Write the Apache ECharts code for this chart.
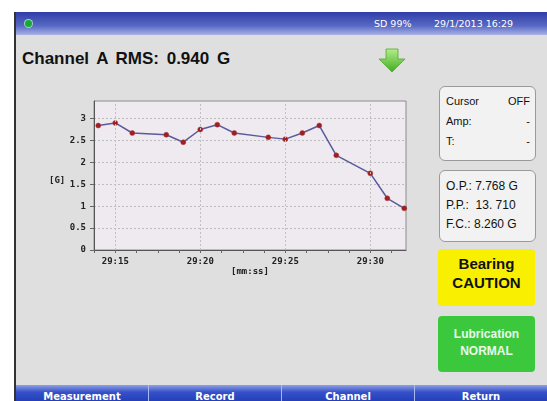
<!DOCTYPE HTML>
<html>
<head>
    <meta charset="utf-8">
    <title>Channel A RMS</title>
    <script src="https://cdn.jsdelivr.net/npm/echarts@6/dist/echarts.min.js"></script>
    <style>
        html, body { margin: 0; padding: 0; background: #ffffff; }
        #screen { position: absolute; left: 14px; top: 12px; width: 533px; height: 389px;
                  background: #dfdfdf; border-left: 2px solid #333; box-sizing: border-box; overflow: hidden; }
        #header { position: absolute; left: 0; top: 0; width: 100%; height: 23px;
                  background: linear-gradient(#2f3ea8, #5868c4 60%, #a9b3e6); }
        #dot { position: absolute; left: 9px; top: 8px; width: 7px; height: 7px; border-radius: 50%;
               background: #16a83a; box-shadow: 0 0 0 1px #9fd8a8; }
        .hdr { position: absolute; top: 6px; color: #fff; font: 9.5px "DejaVu Sans"; }
        #title { position: absolute; left: 6px; top: 37px; font: bold 17px "Liberation Sans"; color: #111; word-spacing: 3px; }
        #arrow { position: absolute; left: 362px; top: 36px; }
        .box { position: absolute; left: 423px; width: 97px; box-sizing: border-box; border: 1px solid #9a9a9a;
               border-radius: 6px; background: #f2f2f2; font: 11px "Liberation Sans"; color: #111; }
        .row { position: absolute; left: 6px; right: 5px; display: flex; justify-content: space-between; }
        #bearing { position: absolute; left: 422px; top: 237px; width: 97px; height: 57px; background: #f8f000;
                   border-radius: 4px; text-align: center; font: bold 15px "Liberation Sans"; line-height: 19px;
                   padding-top: 5px; box-sizing: border-box; color: #111; }
        #lube { position: absolute; left: 422px; top: 304px; width: 97px; height: 56px; background: #3cc83c;
                border-radius: 4px; text-align: center; font: bold 12px "Liberation Sans"; line-height: 17px;
                padding-top: 10px; box-sizing: border-box; color: #eaf8ea; }
        #footer { position: absolute; left: 0; top: 373px; width: 100%; height: 16px; display: flex;
                  background: linear-gradient(#8ea0e6, #3550c8 45%, #2440b8); }
        .btn { flex: 1; text-align: center; color: #fff; font: bold 10px "DejaVu Sans"; padding-top: 6px;
               border-left: 1px solid #a8b8f0; }
        .btn:first-child { border-left: none; }
        #chart { position: absolute; left: 0; top: 0; width: 547px; height: 401px; }
    </style>
</head>
<body>
<div id="screen">
    <div id="header">
        <div id="dot"></div>
        <div class="hdr" style="left:358px;">SD 99%</div>
        <div class="hdr" style="left:418px;">29/1/2013 16:29</div>
    </div>
    <div id="title">Channel A RMS: 0.940 G</div>
    <svg id="arrow" width="28" height="25" viewBox="0 0 28 25">
        <defs>
            <linearGradient id="ag" x1="0" y1="0" x2="0" y2="1">
                <stop offset="0" stop-color="#b6ec8a"/>
                <stop offset="1" stop-color="#3fae1e"/>
            </linearGradient>
        </defs>
        <polygon points="8,1 20,1 20,11 27,11 14,24 1,11 8,11" fill="url(#ag)" stroke="#52a830" stroke-width="0.8"/>
    </svg>
    <div class="box" style="top:74px;height:75px;">
        <div class="row" style="top:8px;"><span>Cursor</span><span>OFF</span></div>
        <div class="row" style="top:28px;"><span>Amp:</span><span>-</span></div>
        <div class="row" style="top:48px;"><span>T:</span><span>-</span></div>
    </div>
    <div class="box" style="top:158px;height:72px;font-size:12px;">
        <div class="row" style="top:8px;"><span>O.P.: 7.768 G</span></div>
        <div class="row" style="top:27px;"><span>P.P.:&nbsp; 13. 710</span></div>
        <div class="row" style="top:46px;"><span>F.C.: 8.260 G</span></div>
    </div>
    <div id="bearing">Bearing<br>CAUTION</div>
    <div id="lube">Lubrication<br>NORMAL</div>
    <div id="footer">
        <div class="btn">Measurement</div>
        <div class="btn">Record</div>
        <div class="btn">Channel</div>
        <div class="btn">Return</div>
    </div>
</div>
<div id="chart"></div>
<script type="text/javascript">
    // seconds after 29:00 (mm:ss)
    var seconds = [14, 15, 16, 18, 19, 20, 21, 22, 24, 25, 26, 27, 28, 30, 31, 32];
    // RMS values [G]
    var rmsValues = [2.84, 2.90, 2.67, 2.63, 2.46, 2.75, 2.86, 2.67, 2.57, 2.53, 2.67, 2.84, 2.16, 1.75, 1.18, 0.95];
    // labelled ticks on the time axis
    var majorSeconds = [15, 20, 25, 30];
    var yLabels = [0, 0.5, 1, 1.5, 2, 2.5, 3];

    var points = [];
    for (var i = 0; i < seconds.length; i++) {
        points.push([seconds[i], rmsValues[i]]);
    }
    var vLines = [];
    for (var i = 0; i < majorSeconds.length; i++) {
        vLines.push({xAxis: majorSeconds[i]});
    }

    var tickFont = {fontFamily: 'DejaVu Sans Mono', fontWeight: 'bold', fontSize: 9, color: '#222'};

    var myChart = echarts.init(document.getElementById('chart'));
    var option = {
        animation: false,
        grid: {
            left: 94, top: 101, width: 312, height: 149,
            show: true,
            backgroundColor: '#eeeaf0',
            borderColor: '#8c8c8c',
            borderWidth: 1
        },
        xAxis: {
            type: 'value',
            min: 13.75,
            max: 32.1,
            interval: 1.25,
            axisLine: {onZero: false, lineStyle: {color: '#555', width: 1}},
            axisTick: {length: 3, lineStyle: {color: '#666'}},
            splitLine: {show: false},
            axisLabel: Object.assign({
                margin: 7,
                showMaxLabel: false,
                formatter: function (v) {
                    return majorSeconds.indexOf(v) >= 0 ? '29:' + v : '';
                }
            }, tickFont)
        },
        yAxis: {
            type: 'value',
            min: 0,
            max: 3.4,
            interval: 0.5,
            axisLine: {show: true, lineStyle: {color: '#555', width: 1}},
            axisTick: {show: true, length: 4, lineStyle: {color: '#666'}},
            splitLine: {lineStyle: {color: '#bdbdbd', type: [2, 2]}},
            axisLabel: Object.assign({
                margin: 8,
                showMaxLabel: false,
                formatter: function (v) {
                    return yLabels.indexOf(v) >= 0 ? String(v) : '';
                }
            }, tickFont)
        },
        graphic: [
            {type: 'text', left: 49, top: 176, style: {text: '[G]', font: 'bold 9px "DejaVu Sans Mono"', fill: '#222'}},
            {type: 'text', left: 231, top: 267, style: {text: '[mm:ss]', font: 'bold 9px "DejaVu Sans Mono"', fill: '#222'}}
        ],
        series: [{
            type: 'line',
            data: points,
            symbol: 'circle',
            symbolSize: 5,
            itemStyle: {color: '#9c1f24', borderColor: '#b03a3a', borderWidth: 0.5},
            lineStyle: {color: '#5a5a9c', width: 1.5},
            markLine: {
                silent: true,
                symbol: 'none',
                label: {show: false},
                lineStyle: {color: '#c0c0c0', type: [2, 2], width: 1},
                data: vLines
            }
        }]
    };
    myChart.setOption(option);
</script>
</body>
</html>
